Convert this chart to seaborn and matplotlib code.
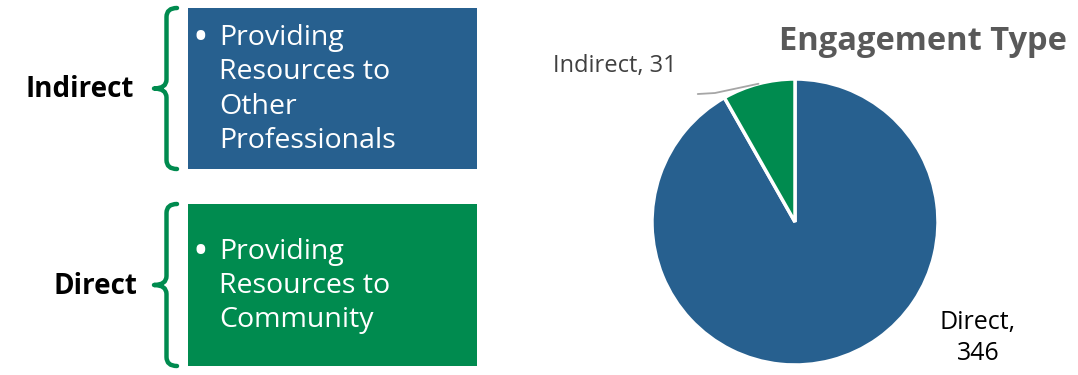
import numpy as np
import matplotlib
matplotlib.use("Agg")
import matplotlib.pyplot as plt
from matplotlib.path import Path
from matplotlib.patches import PathPatch, Rectangle
import seaborn as sns

# data
categories = ["Direct", "Indirect"]
counts = [346, 31]
box_labels = ["Indirect", "Direct"]
descriptions = [
    "Providing\nResources to\nOther\nProfessionals",
    "Providing\nResources to\nCommunity",
]
title = "Engagement Type"

BLUE = "#27608f"
GREEN = "#008b4f"
pie_colors = {"Direct": BLUE, "Indirect": GREEN}
box_colors = {"Indirect": BLUE, "Direct": GREEN}

sns.set_theme(style="white")
plt.rcParams["font.family"] = ["Open Sans", "DejaVu Sans"]

W, H = 1078, 375
fig = plt.figure(figsize=(W / 100, H / 100), dpi=100)

def fx(x):
    return x / W

def fy(y):
    return 1 - y / H

def brace(x_tip, x_end, y_top, y_bot, color):
    ym = (y_top + y_bot) / 2
    xm = (x_tip + x_end) / 2 + 1
    c = 9
    verts = [
        (x_end, y_top), (xm, y_top), (xm, y_top + c),
        (xm, ym - c), (xm, ym), (x_tip, ym),
        (xm, ym), (xm, ym + c),
        (xm, y_bot - c), (xm, y_bot), (x_end, y_bot),
    ]
    verts = [(fx(a), fy(b)) for a, b in verts]
    codes = [Path.MOVETO, Path.CURVE3, Path.CURVE3,
             Path.LINETO, Path.CURVE3, Path.CURVE3,
             Path.CURVE3, Path.CURVE3,
             Path.LINETO, Path.CURVE3, Path.CURVE3]
    fig.patches.append(PathPatch(Path(verts, codes), transform=fig.transFigure,
                                 fill=False, edgecolor=color, lw=3.2,
                                 capstyle="round", joinstyle="round"))

# left side: label, brace, box
row_y = [(8, 169), (204, 366)]
label_x = [80, 95]
LINE = 35.5
for name, desc, (y0, y1), lx in zip(box_labels, descriptions, row_y, label_x):
    ym = (y0 + y1) / 2
    fig.text(fx(lx), fy(ym + 1), name, ha="center", va="center",
             fontsize=20, fontweight="bold", color="black")
    brace(154, 177, y0, y1, GREEN)
    fig.patches.append(Rectangle((fx(188), fy(y1)), fx(477) - fx(188), fy(y0) - fy(y1),
                                 transform=fig.transFigure, facecolor=box_colors[name],
                                 edgecolor="none"))
    n = desc.count("\n") + 1
    first_y = ym - (n - 1) * LINE / 2
    fig.text(fx(193), fy(first_y + 4), "\u2022", ha="left", va="center",
             fontsize=30, color="white")
    fig.text(fx(219), fy(ym + 1), desc, ha="left", va="center",
             fontsize=20.5, color="white", linespacing=1.3)

# pie
cx, cy, r = 795, 222, 143
ax = fig.add_axes([fx(cx - r), fy(cy + r), 2 * r / W, 2 * r / H])
wedges, _ = ax.pie(counts, colors=[pie_colors[c] for c in categories],
                   startangle=90, counterclock=False,
                   wedgeprops=dict(edgecolor="white", linewidth=2.5))
ax.set_aspect("equal")
ax.set_xlim(-1, 1)
ax.set_ylim(-1, 1)

# leader line for the small slice
w = wedges[1]
mid = np.deg2rad((w.theta1 + w.theta2) / 2)
px, py = np.cos(mid), np.sin(mid)
ax.plot([px, -0.56, -0.68], [py, 0.902, 0.895], color="#a6a6a6", lw=1.3,
        clip_on=False)

fig.text(fx(553), fy(66), f"{categories[1]}, {counts[1]}", ha="left", va="center",
         fontsize=17, color="#404040")
fig.text(fx(978), fy(338), f"{categories[0]},\n{counts[0]}", ha="center", va="center",
         fontsize=18, color="black", linespacing=1.3)
fig.text(fx(923), fy(42), title, ha="center", va="center", fontsize=23.5,
         fontweight="bold", color="#595959")

fig.savefig("out.png", dpi=100)
